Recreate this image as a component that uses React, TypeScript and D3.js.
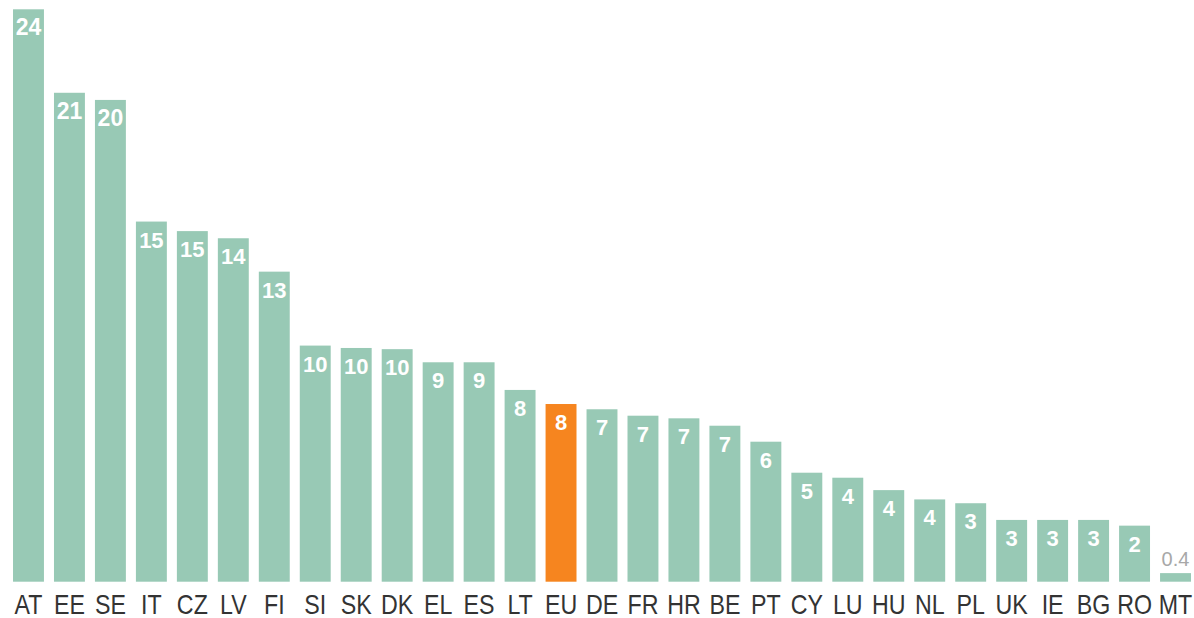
import React from "react";
import * as d3 from "d3";

const categories = ["AT","EE","SE","IT","CZ","LV","FI","SI","SK","DK","EL","ES","LT","EU","DE","FR","HR","BE","PT","CY","LU","HU","NL","PL","UK","IE","BG","RO","MT"];
const values = [24,20.5,20.2,15.1,14.7,14.4,13.0,9.9,9.8,9.75,9.2,9.2,8.04,7.45,7.23,6.96,6.85,6.54,5.87,4.57,4.36,3.84,3.45,3.29,2.59,2.59,2.59,2.35,0.36];
const valueLabels = ["24","21","20","15","15","14","13","10","10","10","9","9","8","8","7","7","7","7","6","5","4","4","4","3","3","3","3","2","0.4"];
const highlight = "EU";

const W = 1194;
const H = 618;
const baseline = 581.7;
const topY = 9.3;

export default function App() {
  const x = d3.scaleBand<string>().domain(categories).range([8, 1196]).paddingInner(0.245).paddingOuter(0.1225);
  const y = d3.scaleLinear().domain([0, 24]).range([baseline, topY]);
  const bw = x.bandwidth();
  return (
    <svg width={W} height={H} style={{ position: "absolute", left: 0, top: 0, background: "#fff" }}>
      {categories.map((c, i) => {
        const v = values[i];
        const x0 = x(c)!;
        const yt = y(v);
        const cx = x0 + bw / 2;
        const small = v < 1;
        return (
          <g key={c}>
            <rect x={x0} y={yt} width={bw} height={baseline - yt} fill={c === highlight ? "#f6851f" : "#98c9b5"} />
            {small ? (
              <text x={cx} y={yt - 7} textAnchor="middle" fontFamily="Liberation Sans, Arial, sans-serif" fontSize={20} fill="#a8a8a8">{valueLabels[i]}</text>
            ) : (
              <text x={cx} y={yt + 26} textAnchor="middle" fontFamily="Liberation Sans, Arial, sans-serif" fontWeight={600} fontSize={i < 3 ? 23 : 22} fill="#ffffff">{valueLabels[i]}</text>
            )}
            <text transform={`translate(${cx},${614}) scale(0.86,1)`} textAnchor="middle" fontFamily="Liberation Sans, Arial, sans-serif" fontSize={27} fill="#333333">{c}</text>
          </g>
        );
      })}
    </svg>
  );
}
